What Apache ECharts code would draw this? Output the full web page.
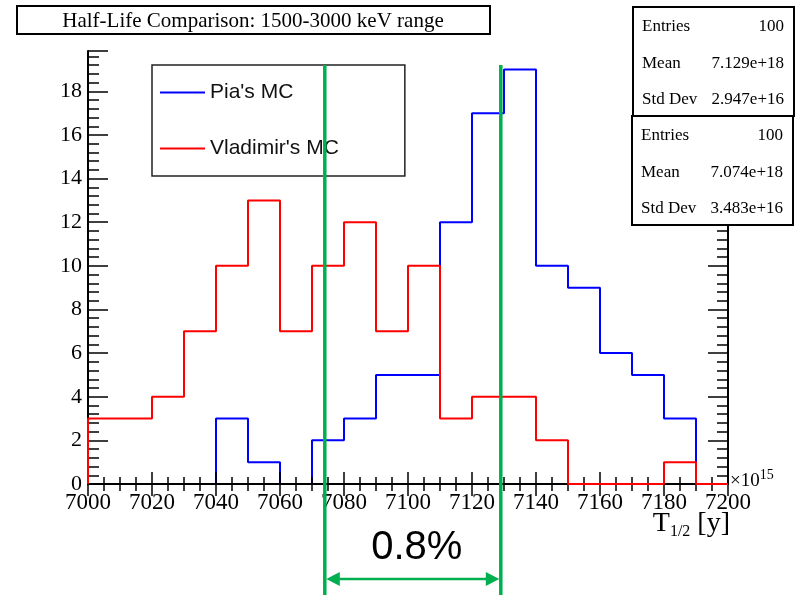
<!DOCTYPE html>
<html lang="en">
<head>
    <meta charset="UTF-8">
    <title>Half-Life Comparison</title>
    <script src="https://cdn.jsdelivr.net/npm/echarts@6/dist/echarts.min.js"></script>
    <style>
        body { margin: 0; background: #fff; }
    </style>
</head>
<body>
<div id="chart" style="width:798px;height:595px;"></div>
<script>
    // bin edges in units of 10^15 y, 10 wide
    var binStart = 7000;
    var binWidth = 10;
    var piaCounts = [0, 0, 0, 0, 3, 1, 0, 2, 3, 5, 5, 12, 17, 19, 10, 9, 6, 5, 3, 0];
    var vladCounts = [3, 3, 4, 7, 10, 13, 7, 10, 12, 7, 10, 3, 4, 4, 2, 0, 0, 0, 1, 0];
    var seriesNames = ["Pia's MC", "Vladimir's MC"];
    var statLabels = ['Entries', 'Mean', 'Std Dev'];
    var piaStats = ['100', '7.129e+18', '2.947e+16'];
    var vladStats = ['100', '7.074e+18', '3.483e+16'];
    var meanLines = [7074, 7129];
    var spreadText = '0.8%';

    var serif = '"Liberation Serif", "DejaVu Serif", serif';
    var sans = '"Liberation Sans", Arial, sans-serif';

    // histogram outline, drawn as a step line
    function outline(counts) {
        var pts = [[binStart, 0]];
        for (var i = 0; i < counts.length; i++) {
            pts.push([binStart + (i + 1) * binWidth, counts[i]]);
        }
        pts.push([binStart + counts.length * binWidth, 0]);
        return pts;
    }

    var xMin = binStart, xMax = binStart + piaCounts.length * binWidth;
    var yMax = 19.85;

    function frameX(pos, show) {
        return {
            type: 'value', position: pos, min: xMin, max: xMax, interval: 20, z: 2,
            axisLine: {show: true, lineStyle: {color: '#000', width: 2}},
            axisTick: {show: true, inside: true, length: 12, lineStyle: {color: '#000', width: 1.5}},
            minorTick: {show: true, splitNumber: 4, length: 7, lineStyle: {color: '#000', width: 1.5}},
            splitLine: {show: false},
            axisLabel: {show: show, margin: 7, color: '#000', fontFamily: serif, fontSize: 23,
                formatter: function (v) { return String(v); }}
        };
    }
    function frameY(pos, show) {
        return {
            type: 'value', position: pos, min: 0, max: yMax, interval: 2,
            axisLine: {show: true, lineStyle: {color: '#000', width: 2}},
            axisTick: {show: true, inside: true, length: 20, lineStyle: {color: '#000', width: 1.5}},
            minorTick: {show: true, splitNumber: 5, length: 11, lineStyle: {color: '#000', width: 1.5}},
            splitLine: {show: false},
            axisLabel: {show: show, showMaxLabel: false, margin: 6, color: '#000', fontFamily: serif, fontSize: 22}
        };
    }

    var ct = echarts.init(document.getElementById('chart'));
    var option = {
        animation: false,
        backgroundColor: '#fff',
        grid: {left: 88, right: 70, top: 51, bottom: 111},
        xAxis: [frameX('bottom', true), frameX('top', false)],
        yAxis: [frameY('left', true), frameY('right', false)],
        legend: {
            orient: 'vertical', left: 152, top: 65,
            padding: [17, 66, 17, 8],
            itemGap: 35, itemWidth: 45, itemHeight: 2,
            icon: 'rect',
            borderColor: '#222', borderWidth: 1.5,
            textStyle: {fontFamily: sans, fontSize: 21, color: '#111', lineHeight: 21},
            data: seriesNames
        },
        series: [
            {
                name: seriesNames[0], type: 'line', step: 'start', z: 1,
                data: outline(piaCounts), symbol: 'none',
                lineStyle: {color: '#0000ff', width: 2}, itemStyle: {color: '#0000ff'}
            },
            {
                name: seriesNames[1], type: 'line', step: 'start', z: 3,
                data: outline(vladCounts), symbol: 'none',
                lineStyle: {color: '#ff0000', width: 2}, itemStyle: {color: '#ff0000'}
            }
        ]
    };
    ct.setOption(option);

    // boxes and annotations
    var g = [];
    g.push({type: 'rect', shape: {x: 17, y: 6, width: 473, height: 28},
        style: {fill: '#fff', stroke: '#000', lineWidth: 2}, z: 10});
    g.push({type: 'text', x: 253, y: 21, z: 11,
        style: {text: 'Half-Life Comparison: 1500-3000 keV range', font: '21px ' + serif,
            fill: '#000', align: 'center', verticalAlign: 'middle'}});

    function statBox(x, y, h, values) {
        g.push({type: 'rect', shape: {x: x, y: y, width: 161, height: h},
            style: {fill: '#fff', stroke: '#000', lineWidth: 2}, z: 10});
        for (var i = 0; i < statLabels.length; i++) {
            var ty = y + 20 + i * 36.5;
            g.push({type: 'text', x: x + 9, y: ty, z: 11,
                style: {text: statLabels[i], font: '17px ' + serif, fill: '#000', verticalAlign: 'middle'}});
            g.push({type: 'text', x: x + 151, y: ty, z: 11,
                style: {text: values[i], font: '17px ' + serif, fill: '#000', align: 'right', verticalAlign: 'middle'}});
        }
    }
    statBox(633, 7, 109, piaStats);
    statBox(632, 116, 109, vladStats);

    var axisEnd = ct.convertToPixel({xAxisIndex: 0, yAxisIndex: 0}, [xMax, 0]);
    g.push({type: 'text', x: axisEnd[0] + 2, y: axisEnd[1] - 3, z: 11,
        style: {text: '×10{s|15}', font: '19px ' + serif, fill: '#000', verticalAlign: 'middle',
            rich: {s: {fontSize: 14, fontFamily: serif, verticalAlign: 'top', padding: [0, 0, 12, 0]}}}});
    g.push({type: 'text', x: axisEnd[0] + 2, y: axisEnd[1] + 40, z: 11,
        style: {text: 'T{b|1/2} [y]', font: '28px ' + serif, fill: '#000', align: 'right', verticalAlign: 'middle',
            rich: {b: {fontSize: 16, fontFamily: serif, padding: [16, 0, 0, 0]}}}});

    // green mean markers and arrow
    var green = '#00b050';
    var xs = meanLines.map(function (m) { return ct.convertToPixel({xAxisIndex: 0}, m); });
    xs.forEach(function (x) {
        g.push({type: 'line', z: 20, shape: {x1: x, y1: 65, x2: x, y2: 595},
            style: {stroke: green, lineWidth: 3.5}});
    });
    var ay = 579;
    g.push({type: 'line', z: 20, shape: {x1: xs[0] + 8, y1: ay, x2: xs[1] - 8, y2: ay},
        style: {stroke: green, lineWidth: 2.5}});
    g.push({type: 'polygon', z: 20, shape: {points: [[xs[0] + 1.5, ay], [xs[0] + 15, ay - 7], [xs[0] + 15, ay + 7]]},
        style: {fill: green}});
    g.push({type: 'polygon', z: 20, shape: {points: [[xs[1] - 1.5, ay], [xs[1] - 15, ay - 7], [xs[1] - 15, ay + 7]]},
        style: {fill: green}});
    g.push({type: 'text', z: 20, x: (xs[0] + xs[1]) / 2 + 4, y: 548,
        style: {text: spreadText, font: '40px ' + sans, fill: '#000', align: 'center', verticalAlign: 'middle'}});

    ct.setOption({graphic: g});
</script>
</body>
</html>
